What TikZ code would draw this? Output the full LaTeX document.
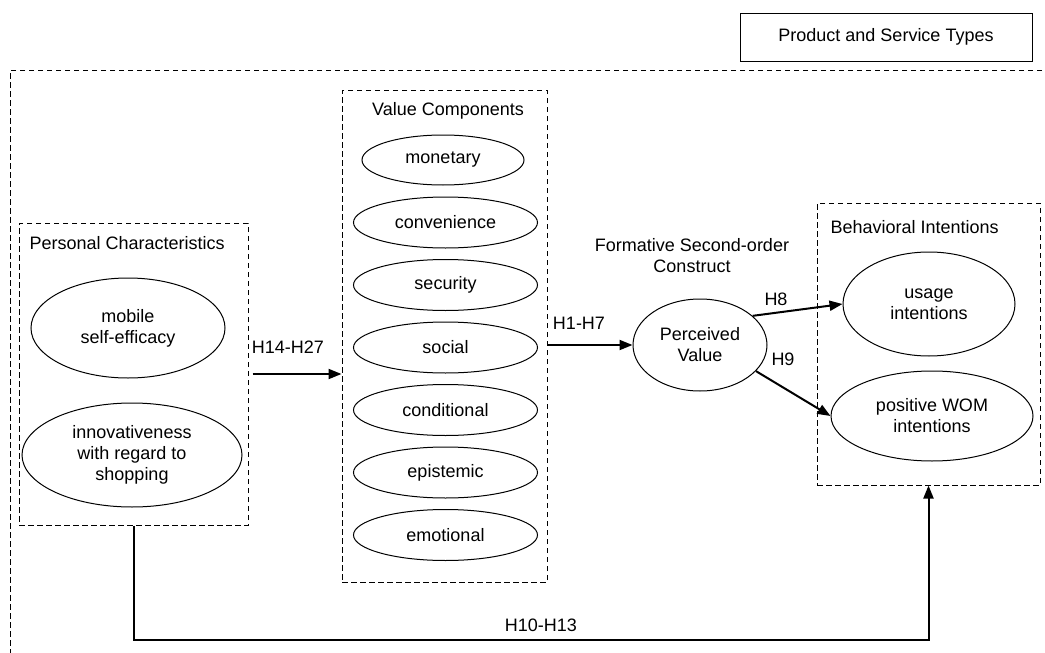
\documentclass[tikz,border=0pt]{standalone}
\usepackage{fontspec}
\setmainfont{Liberation Sans}
\usetikzlibrary{shapes.geometric,arrows.meta}
\tikzset{
  grp/.style={draw, dashed, dash pattern=on 5.5pt off 3.5pt, line width=1pt},
  cons/.style={draw, ellipse, line width=1pt, inner sep=0pt, align=center},
  hyp/.style={->, line width=2pt}
}
\begin{document}
\begin{tikzpicture}[x=1pt, y=-1pt, font=\fontsize{18}{21}\selectfont, line join=miter, >={Triangle[length=13pt,width=10pt]}]
				\useasboundingbox (0,0) rectangle (1045,653);
				\clip (0,0) rectangle (1045,653);
				\node[draw, line width=1pt, minimum width=292, minimum height=48] (types) at (886,37) {Product and Service Types};
				\draw[grp] (1060,70)--(10,70)--(10,670);
				% groups
				\node[grp, minimum width=229, minimum height=302] (pc) at (133.5,374) {};
				\node[grp, minimum width=205, minimum height=492] (vc) at (444.5,336) {};
				\node[grp, minimum width=223, minimum height=282] (bi) at (928.5,344) {};
				\node[anchor=west] (pctitle) at (26,243) {Personal Characteristics};
				\node (vctitle) at (448,111) {Value Components};
				\node[anchor=west] (bititle) at (827,227) {Behavioral Intentions};
				\node[align=center] (formative) at (692,256) {Formative Second-order\\Construct};
				% constructs
				\node[cons, minimum width=194, minimum height=100] (efficacy) at (128,328) {mobile\\self-efficacy};
				\node[cons, minimum width=220, minimum height=104] (innov) at (132,455) {innovativeness\\with regard to\\shopping};
				\node[cons, minimum width=162, minimum height=50] (monetary) at (443,160) {monetary};
				\foreach \name/\y in {convenience/222.5, security/285, social/347.5, conditional/410, epistemic/472.5, emotional/535}
					\node[cons, minimum width=184, minimum height=51] (\name) at (445.5,\y) {\name};
				\node[cons, minimum width=134, minimum height=92] (pv) at (700,345) {Perceived\\Value};
				\node[cons, minimum width=172, minimum height=104] (usage) at (929,304) {usage\\intentions};
				\node[cons, minimum width=202, minimum height=90] (wom) at (932,416) {positive WOM\\intentions};
				% hypotheses
				\draw[hyp, shorten <=4pt] (pc.east)--(pc.east -| vc.west);
				\draw[hyp] (vc.east |- pv.west)--(pv.west);
				\draw[hyp] (pv.29)--(usage.west);
				\draw[hyp] (pv.-25)--(wom.west);
				\draw[hyp] (pc.south)--++(0,114)-|(bi.south);
				\node (h1) at (288,347) {H14-H27};
				\node (h2) at (579,323) {H1-H7};
				\node (h3) at (776,299) {H8};
				\node (h4) at (783,359) {H9};
				\node (h5) at (541,625) {H10-H13};
	\end{tikzpicture}
\end{document}
